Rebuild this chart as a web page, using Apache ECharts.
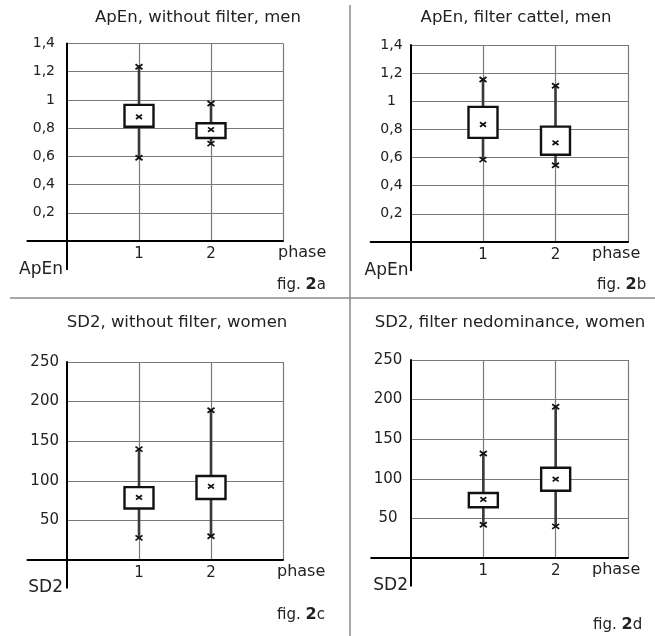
<!DOCTYPE html>
<html><head><meta charset="utf-8">
<script src="https://cdn.jsdelivr.net/npm/echarts@6/dist/echarts.min.js"></script>
<style>html,body{margin:0;padding:0;background:#fff}#c{width:655px;height:636px}</style>
</head><body><div id="c"></div>
<script>
// ---- data ----
const phases = [1, 2];
const xTickLabels = ['1', '2'];
const apenTickLabels = ['0,2', '0,4', '0,6', '0,8', '1', '1,2', '1,4'];
const sd2TickLabels = ['50', '100', '150', '200', '250'];
const panelTitles = ['ApEn, without filter, men', 'ApEn, filter cattel, men', 'SD2, without filter, women', 'SD2, filter nedominance, women'];
const yNames = ['ApEn', 'ApEn', 'SD2', 'SD2'];
const figLetters = ['a', 'b', 'c', 'd'];

// fig. 2a : ApEn, without filter, men
const aLow = [0.59, 0.69];
const aQ1 = [0.81, 0.73];
const aMed = [0.88, 0.79];
const aQ3 = [0.965, 0.835];
const aHigh = [1.235, 0.975];
// fig. 2b : ApEn, filter cattel, men
const bLow = [0.585, 0.545];
const bQ1 = [0.74, 0.62];
const bMed = [0.835, 0.705];
const bQ3 = [0.96, 0.82];
const bHigh = [1.155, 1.11];
// fig. 2c : SD2, without filter, women
const cLow = [28, 30];
const cQ1 = [65, 77];
const cMed = [79, 93];
const cQ3 = [92, 106];
const cHigh = [140, 189];
// fig. 2d : SD2, filter nedominance, women
const dLow = [42, 40];
const dQ1 = [64, 85];
const dMed = [74, 99.5];
const dQ3 = [82, 114];
const dHigh = [132, 191];

const panelData = [
  [aLow, aQ1, aMed, aQ3, aHigh],
  [bLow, bQ1, bMed, bQ3, bHigh],
  [cLow, cQ1, cMed, cQ3, cHigh],
  [dLow, dQ1, dMed, dQ3, dHigh]
];

// ---- layout / style ----
const FONT = '"DejaVu Sans", sans-serif';
// main plotting area of each panel: from the y axis (x=0) to phase 3, from y=0 to the top value
const mainGrids = [
  {left: 67, top: 43.5, width: 216, height: 197.5},
  {left: 410.5, top: 45, width: 217.5, height: 197},
  {left: 67, top: 362, width: 216, height: 198},
  {left: 411, top: 360, width: 217, height: 198}
];
const X_MAX = 3, X_EXT = 0.55;
const yCfg = [
  {max: 1.4, interval: 0.2, ext: 0.2, labels: apenTickLabels, size: 14, align: 'right', margin: 12, pad: 5},
  {max: 1.4, interval: 0.2, ext: 0.2, labels: apenTickLabels, size: 14, align: 'center', margin: 19, pad: 5},
  {max: 250, interval: 50, ext: 35, labels: sd2TickLabels, size: 15, align: 'right', margin: 8, pad: 8},
  {max: 250, interval: 50, ext: 35, labels: sd2TickLabels, size: 15, align: 'center', margin: 23, pad: 8}
];
const phaseGap = [-5, -36, -6, -36];
const yNamePad = [[0, 4, 10, 0], [0, 2, 10, 0], [0, 4, 10, 0], [0, 3, 8, 0]];
const GRID_COLOR = '#7a7a7a';

function splitColors(n) {
  const arr = ['rgba(0,0,0,0)'];
  for (let i = 1; i < n; i++) arr.push(GRID_COLOR);
  return arr;
}

const grids = [], xAxes = [], yAxes = [], series = [];
for (let i = 0; i < 4; i++) {
  const g = mainGrids[i];
  const yc = yCfg[i];
  const pxX = g.width / X_MAX;
  const pxY = g.height / yc.max;
  // main grid (index 2i): grid lines, labels, boxes
  grids.push({left: g.left, top: g.top, width: g.width, height: g.height, outerBoundsMode: 'none', containLabel: false});
  // axis-cross grid (index 2i+1): extended axis lines that cross beyond the origin
  grids.push({left: g.left - X_EXT * pxX, top: g.top, width: g.width + X_EXT * pxX, height: g.height + yc.ext * pxY, outerBoundsMode: 'none', containLabel: false});

  xAxes.push({
    type: 'value', gridIndex: 2 * i, min: 0, max: X_MAX, interval: 1,
    axisLine: {show: false}, axisTick: {show: false},
    splitLine: {show: true, lineStyle: {color: splitColors(X_MAX + 1), width: 1.2}},
    axisLabel: {
      margin: 6, fontSize: 15, fontFamily: FONT, color: '#222',
      formatter: function (v) {
        const idx = phases.indexOf(Math.round(v));
        return idx >= 0 ? xTickLabels[idx] : '';
      }
    }
  });
  yAxes.push({
    type: 'value', gridIndex: 2 * i, min: 0, max: yc.max, interval: yc.interval,
    axisLine: {show: false}, axisTick: {show: false},
    splitLine: {show: true, lineStyle: {color: splitColors(yc.labels.length + 1), width: 1.2}},
    axisLabel: {
      margin: yc.margin, fontSize: yc.size, fontFamily: FONT, color: '#222', align: yc.align,
      padding: [0, 0, yc.pad, 0],
      formatter: function (v) {
        const k = Math.round(v / yc.interval);
        return k >= 1 ? (yc.labels[k - 1] || '') : '';
      }
    }
  });
  xAxes.push({
    type: 'value', gridIndex: 2 * i + 1, min: -X_EXT, max: X_MAX,
    axisLine: {onZero: true, lineStyle: {color: '#000', width: 2}},
    axisTick: {show: false}, axisLabel: {show: false}, splitLine: {show: false},
    name: 'phase', nameLocation: 'end', nameGap: phaseGap[i],
    nameTextStyle: {fontSize: 16, fontFamily: FONT, color: '#222', align: 'left', verticalAlign: 'top', padding: [4, 0, 0, 0]}
  });
  yAxes.push({
    type: 'value', gridIndex: 2 * i + 1, min: -yc.ext, max: yc.max,
    axisLine: {onZero: true, lineStyle: {color: '#000', width: 2}},
    axisTick: {show: false}, axisLabel: {show: false}, splitLine: {show: false},
    name: yNames[i], nameLocation: 'start', nameGap: 0,
    nameTextStyle: {fontSize: 17, fontFamily: FONT, color: '#222', align: 'right', verticalAlign: 'middle', padding: yNamePad[i]}
  });
  const pd = panelData[i];
  series.push({
    type: 'custom', xAxisIndex: 2 * i, yAxisIndex: 2 * i, clip: false, z: 3,
    encode: {x: 0, y: [1, 2, 3, 4, 5]},
    data: phases.map((p, j) => [p, pd[0][j], pd[1][j], pd[2][j], pd[3][j], pd[4][j]]),
    renderItem: renderBox
  });
}

function cross(p, w, h) {
  return {type: 'group', children: [
    {type: 'line', shape: {x1: p[0] - w, y1: p[1] - h, x2: p[0] + w, y2: p[1] + h}, style: {stroke: '#111', lineWidth: 1.7}},
    {type: 'line', shape: {x1: p[0] - w, y1: p[1] + h, x2: p[0] + w, y2: p[1] - h}, style: {stroke: '#111', lineWidth: 1.7}}
  ]};
}
function renderBox(params, api) {
  const x = api.value(0);
  const low = api.coord([x, api.value(1)]);
  const q1 = api.coord([x, api.value(2)]);
  const med = api.coord([x, api.value(3)]);
  const q3 = api.coord([x, api.value(4)]);
  const high = api.coord([x, api.value(5)]);
  const hw = 14.5;
  return {type: 'group', children: [
    {type: 'line', shape: {x1: high[0], y1: high[1], x2: low[0], y2: low[1]}, style: {stroke: '#3a3a3a', lineWidth: 2.6}},
    {type: 'rect', shape: {x: q3[0] - hw, y: q3[1], width: 2 * hw, height: q1[1] - q3[1]}, style: {fill: '#fff', stroke: '#111', lineWidth: 2.4}},
    cross(high, 3.5, 2.5), cross(low, 3.5, 2.5), cross(med, 3, 2.2)
  ]};
}

// titles, fig labels, dividers
const titlePos = [[198, 18], [516, 18], [177, 323], [510, 323]];
const figPos = [[277, 285], [597, 285], [277, 615], [593, 625]];
const graphics = [
  {type: 'line', shape: {x1: 10, y1: 298, x2: 655, y2: 298}, style: {stroke: '#8a8a8a', lineWidth: 1.5}},
  {type: 'line', shape: {x1: 350, y1: 5, x2: 350, y2: 636}, style: {stroke: '#8a8a8a', lineWidth: 1.5}}
];
for (let i = 0; i < 4; i++) {
  graphics.push({type: 'text', x: titlePos[i][0], y: titlePos[i][1],
    style: {text: panelTitles[i], font: '16.5px ' + FONT, fill: '#222', align: 'center', verticalAlign: 'middle'}});
  graphics.push({type: 'text', x: figPos[i][0], y: figPos[i][1],
    style: {text: 'fig. {b|2}' + figLetters[i], font: '15px ' + FONT, fill: '#222', align: 'left', verticalAlign: 'middle',
      rich: {b: {font: 'bold 16px ' + FONT, fill: '#222'}}}});
}

const chart = echarts.init(document.getElementById('c'), null, {renderer: 'canvas'});
chart.setOption({
  animation: false,
  backgroundColor: '#fff',
  grid: grids,
  xAxis: xAxes,
  yAxis: yAxes,
  series: series,
  graphic: graphics
});
</script>
</body></html>
